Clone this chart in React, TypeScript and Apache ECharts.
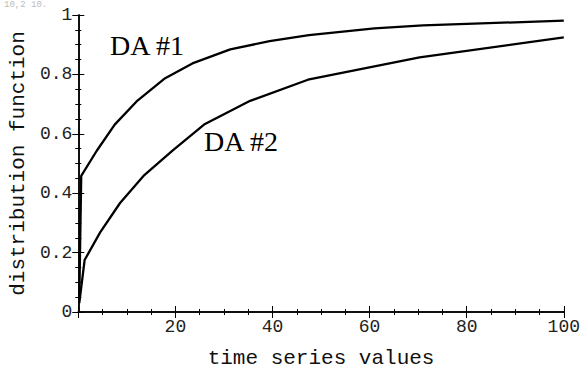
import React, { useEffect, useRef } from "react";
import * as echarts from "echarts";

const da1X = [0.2, 0.6, 3.8, 7.5, 12, 17.7, 23.5, 31.3, 39.4, 47.5, 61, 71, 100];
const da1Y = [0.04, 0.458, 0.543, 0.631, 0.709, 0.785, 0.837, 0.884, 0.912, 0.932, 0.955, 0.965, 0.981];
const da2X = [0.2, 1.3, 4.5, 8.6, 13.6, 19.4, 25.9, 35.4, 47.3, 70.3, 100];
const da2Y = [0.03, 0.175, 0.268, 0.367, 0.461, 0.543, 0.631, 0.711, 0.782, 0.857, 0.925];
const xTicks = [0, 20, 40, 60, 80, 100];
const yTicks = [0, 0.2, 0.4, 0.6, 0.8, 1];
const seriesLabels = ["DA #1", "DA #2"];

const mono = "'Liberation Mono', 'Courier New', monospace";
const serif = "'Liberation Serif', 'Times New Roman', serif";

export default function App() {
  const ref = useRef<HTMLDivElement>(null);
  useEffect(() => {
    if (!ref.current) return;
    const chart = echarts.init(ref.current, null, { renderer: "svg" });
    const axisCommon = {
      axisLine: { show: true, lineStyle: { color: "#000", width: 1.5 } },
      axisTick: { show: true, inside: true, length: 6, lineStyle: { color: "#000", width: 1 } },
      minorTick: { show: true, splitNumber: 4, length: 3, lineStyle: { color: "#000", width: 1 } },
      splitLine: { show: false },
    };
    chart.setOption({
      animation: false,
      backgroundColor: "#fff",
      grid: { left: 73, top: 15, right: 19, bottom: 56, containLabel: false },
      xAxis: [
        {
          type: "value",
          min: xTicks[0],
          max: xTicks[xTicks.length - 1],
          interval: 20,
          name: "time series values",
          nameLocation: "middle",
          nameGap: 36,
          nameTextStyle: { fontFamily: mono, fontSize: 21, color: "#111" },
          axisLabel: {
            fontFamily: mono,
            fontSize: 18,
            color: "#222",
            margin: 6,
            formatter: (v: number) => (v === 0 ? "" : String(v)),
          },
          ...axisCommon,
        },
        {
          type: "value",
          position: "top",
          min: xTicks[0],
          max: xTicks[xTicks.length - 1],
          interval: 20,
          axisLabel: { show: false },
          ...axisCommon,
        },
      ],
      yAxis: [
        {
          type: "value",
          min: yTicks[0],
          max: yTicks[yTicks.length - 1],
          interval: 0.2,
          name: "distribution function",
          nameLocation: "middle",
          nameGap: 45,
          nameTextStyle: { fontFamily: mono, fontSize: 21, color: "#111" },
          axisLabel: { fontFamily: mono, fontSize: 18, color: "#222", margin: 6 },
          ...axisCommon,
        },
        {
          type: "value",
          position: "right",
          min: yTicks[0],
          max: yTicks[yTicks.length - 1],
          interval: 0.2,
          axisLabel: { show: false },
          ...axisCommon,
        },
      ],
      series: [
        {
          name: seriesLabels[0],
          type: "line",
          data: da1X.map((x, i) => [x, da1Y[i]]),
          showSymbol: false,
          lineStyle: { color: "#000", width: 2.3 },
          itemStyle: { color: "#000" },
        },
        {
          name: seriesLabels[1],
          type: "line",
          data: da2X.map((x, i) => [x, da2Y[i]]),
          showSymbol: false,
          lineStyle: { color: "#000", width: 2.3 },
          itemStyle: { color: "#000" },
        },
      ],
      graphic: [
        {
          type: "text",
          left: 4,
          top: 0,
          style: { text: "10,2 10.", font: `9px ${mono}`, fill: "#bbb" },
        },
        {
          type: "text",
          x: 110,
          y: 45,
          style: { text: seriesLabels[0], font: `28px ${serif}`, fill: "#000", textVerticalAlign: "middle", textAlign: "left" },
        },
        {
          type: "text",
          x: 204,
          y: 141,
          style: { text: seriesLabels[1], font: `28px ${serif}`, fill: "#000", textVerticalAlign: "middle", textAlign: "left" },
        },
      ],
    });
    return () => chart.dispose();
  }, []);
  return <div ref={ref} style={{ width: 583, height: 374, position: "absolute", left: 0, top: 0 }} />;
}
